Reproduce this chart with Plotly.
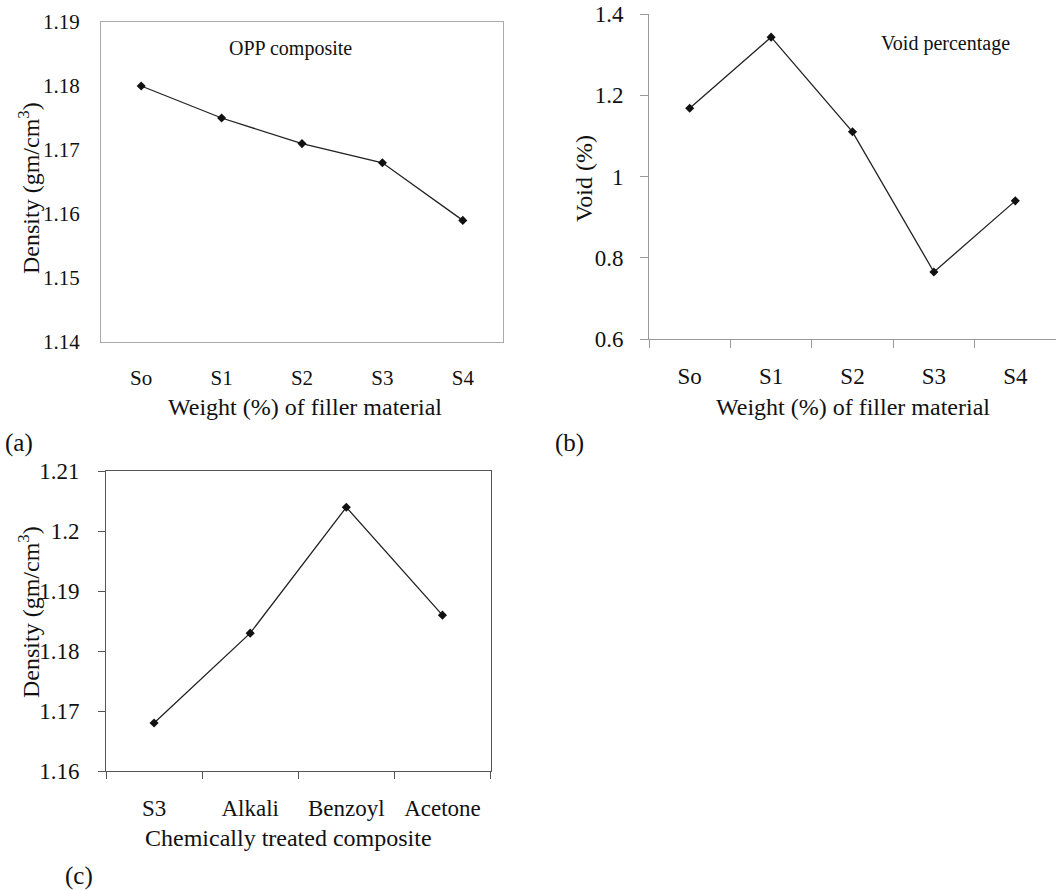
import plotly.graph_objects as go

# ---- data ----
cat_a = ["So", "S1", "S2", "S3", "S4"]
density_a = [1.180, 1.175, 1.171, 1.168, 1.159]

cat_b = ["So", "S1", "S2", "S3", "S4"]
void_b = [1.168, 1.343, 1.110, 0.765, 0.940]

cat_c = ["S3", "Alkali", "Benzoyl", "Acetone"]
density_c = [1.168, 1.183, 1.204, 1.186]

W, H = 1056, 890
FONT = "Liberation Serif"
LINE = "#222222"

def px(x):
    return x / W

def py(y):
    return 1 - y / H

fig = go.Figure()

trace_style = dict(mode="lines+markers",
                   line=dict(color=LINE, width=1.3),
                   marker=dict(symbol="diamond", size=7, color="#111111"),
                   showlegend=False, hoverinfo="x+y")

fig.add_trace(go.Scatter(x=cat_a, y=density_a, xaxis="x", yaxis="y", **trace_style))
fig.add_trace(go.Scatter(x=cat_b, y=void_b, xaxis="x2", yaxis="y2", **trace_style))
fig.add_trace(go.Scatter(x=cat_c, y=density_c, xaxis="x3", yaxis="y3", **trace_style))

tickfont = dict(family=FONT, size=21, color="#111111")
tickfont_b = dict(family=FONT, size=23, color="#111111")

common = dict(showgrid=False, zeroline=False, automargin=False, showline=True, linewidth=1)

fig.update_layout(
    template="none",
    width=W, height=H,
    margin=dict(l=0, r=0, t=0, b=0, pad=0, autoexpand=False),
    paper_bgcolor="white", plot_bgcolor="white",
    font=dict(family=FONT, color="#111111"),
    # panel (a)
    xaxis=dict(domain=[px(101), px(503)], anchor="y", type="category",
               range=[-0.5, 4.5], linecolor="#aaaaaa", mirror=True,
               ticks="", tickfont=tickfont, ticklabelstandoff=17, **common),
    yaxis=dict(domain=[py(342), py(22)], anchor="x", range=[1.14, 1.19],
               tickvals=[1.14, 1.15, 1.16, 1.17, 1.18, 1.19],
               ticktext=["1.14", "1.15", "1.16", "1.17", "1.18", "1.19"],
               linecolor="#aaaaaa", mirror=True,
               ticks="", tickfont=tickfont, ticklabelstandoff=16, **common),
    # panel (b)
    xaxis2=dict(domain=[px(649), 1.0], anchor="y2", type="category",
                range=[-0.5, 4.5], linecolor="#999999",
                ticks="outside", ticklen=8, tickcolor="#999999",
                tickson="boundaries", tickfont=tickfont_b, ticklabelstandoff=16, **common),
    yaxis2=dict(domain=[py(339), py(14)], anchor="x2", range=[0.6, 1.4],
                tickvals=[0.6, 0.8, 1.0, 1.2, 1.4],
                ticktext=["0.6", "0.8", "1", "1.2", "1.4"],
                linecolor="#999999",
                ticks="outside", ticklen=8, tickcolor="#999999",
                tickfont=tickfont_b, ticklabelstandoff=12, **common),
    # panel (c)
    xaxis3=dict(domain=[px(106), px(490.5)], anchor="y3", type="category",
                range=[-0.5, 3.5], linecolor="#555555", mirror=True,
                ticks="outside", ticklen=7, tickcolor="#555555",
                tickson="boundaries", tickfont=tickfont_b, ticklabelstandoff=16, **common),
    yaxis3=dict(domain=[py(771), py(471.3)], anchor="x3", range=[1.16, 1.21],
                tickvals=[1.16, 1.17, 1.18, 1.19, 1.20, 1.21],
                ticktext=["1.16", "1.17", "1.18", "1.19", "1.2", "1.21"],
                linecolor="#555555", mirror=True,
                ticks="outside", ticklen=7, tickcolor="#555555",
                tickfont=tickfont_b, ticklabelstandoff=14, **common),
)

def note(text, x, y, size, angle=0, xanchor="center", yanchor="middle"):
    fig.add_annotation(text=text, x=px(x), y=py(y), xref="paper", yref="paper",
                       showarrow=False, textangle=angle, xanchor=xanchor,
                       yanchor=yanchor, font=dict(family=FONT, size=size, color="#111111"))

# axis titles
note("Weight (%) of filler material", 305, 407, 24)
note("Density (gm/cm<sup>3</sup>)", 29, 188, 24, angle=-90)
note("Weight (%) of filler material", 853, 407, 24)
note("Void (%)", 584, 179, 24, angle=-90)
note("Chemically treated composite", 288, 838, 24)
note("Density (gm/cm<sup>3</sup>)", 29, 612, 24, angle=-90)

# in-plot labels
note("OPP composite", 290, 48, 20)
note("Void percentage", 945, 43, 20)

# panel labels
note("(a)", 19, 443, 25)
note("(b)", 569, 443, 25)
note("(c)", 79, 876, 25)

fig.write_html("out.html")
